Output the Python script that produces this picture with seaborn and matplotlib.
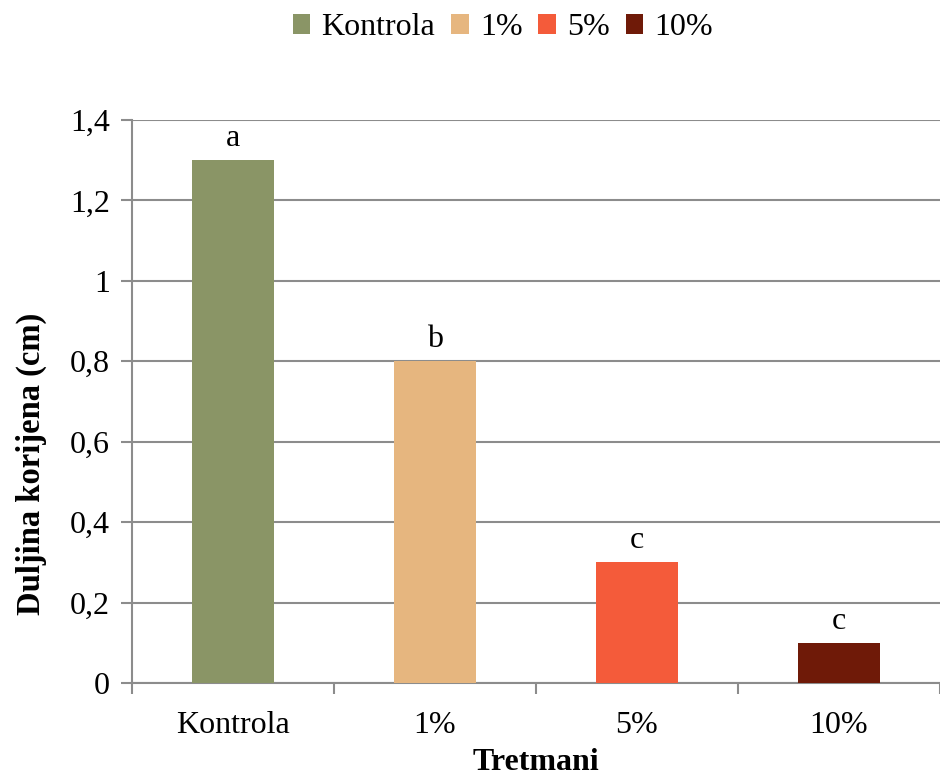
import matplotlib
matplotlib.use("Agg")
import matplotlib.pyplot as plt
import seaborn as sns
from matplotlib.patches import Patch

# Data
categories = ['Kontrola', '1%', '5%', '10%']
values = [1.3, 0.8, 0.3, 0.1]
letters = ['a', 'b', 'c', 'c']
colors = ['#8A9566', '#E6B67F', '#F45B3A', '#6F1A08']
y_ticks = [0, 0.2, 0.4, 0.6, 0.8, 1.0, 1.2, 1.4]
y_tick_labels = ['0', '0,2', '0,4', '0,6', '0,8', '1', '1,2', '1,4']

sns.set_style('white')
plt.rcParams['font.family'] = ['Liberation Serif', 'DejaVu Serif']
plt.rcParams['text.color'] = 'black'
plt.rcParams['xtick.color'] = 'black'
plt.rcParams['ytick.color'] = 'black'
plt.rcParams['axes.labelcolor'] = 'black'
grid_col = '#8C8C8C'

fig = plt.figure(figsize=(9.4, 7.76), dpi=100)
ax = fig.add_axes([0.1404, 0.1198, 0.8596, 0.7256])

sns.barplot(x=categories, y=values, hue=categories, palette=colors,
            width=0.41, legend=False, saturation=1, linewidth=0, ax=ax, zorder=3)

# letters above bars
for bar, lab in zip(ax.patches, letters):
    ax.annotate(lab, (bar.get_x() + bar.get_width() / 2, bar.get_height()),
                xytext=(0, 5), textcoords='offset points',
                ha='center', va='bottom', fontsize=23)

ax.set_xlim(-0.5, 3.5)
ax.set_ylim(0, 1.4)
ax.set_yticks(y_ticks)
ax.set_yticklabels(y_tick_labels, fontsize=23)
ax.tick_params(axis='x', which='major', bottom=True, length=0, labelsize=23, pad=20)
ax.set_xticks([-0.5, 0.5, 1.5, 2.5, 3.5], minor=True)
ax.tick_params(axis='x', which='minor', bottom=True, length=8, width=1.5, color=grid_col)
ax.tick_params(axis='y', left=True, length=8, width=1.5, color=grid_col, labelcolor='black', pad=8)

ax.yaxis.grid(True, color=grid_col, linewidth=1.5, zorder=0)
ax.set_axisbelow(True)
for side in ['top', 'right']:
    ax.spines[side].set_visible(False)
for side in ['left', 'bottom']:
    ax.spines[side].set_color(grid_col)
    ax.spines[side].set_linewidth(1.5)

ax.set_xlabel('Tretmani', fontsize=23, fontweight='bold', labelpad=6)
ax.set_ylabel('Duljina korijena (cm)', fontsize=23.5, fontweight='bold')
ax.yaxis.set_label_coords(-0.105, 0.39)

handles = [Patch(facecolor=c, edgecolor='none', label=l) for c, l in zip(colors, categories)]
leg = ax.legend(handles=handles, loc='upper center', bbox_to_anchor=(0.535, 1.02),
                bbox_transform=fig.transFigure, ncol=4, frameon=False, fontsize=23,
                handlelength=0.55, handleheight=0.55,
                handletextpad=0.35, columnspacing=0.5)
for t in leg.get_texts():
    t.set_fontfamily('Liberation Serif')

fig.savefig('out.png', dpi=100)
